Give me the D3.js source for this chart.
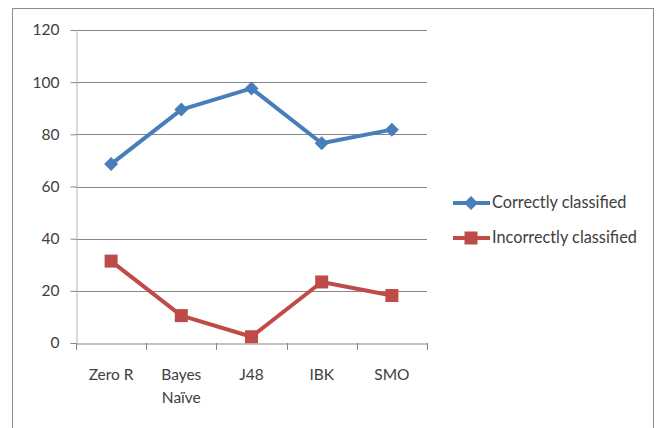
<!DOCTYPE html>
<html>
<head>
<meta charset="utf-8">
<script src="https://cdn.jsdelivr.net/npm/d3@7"></script>
<style>
  html, body { margin: 0; padding: 0; background: #fff; }
  svg { display: block; font-family: Lato, "Open Sans", sans-serif; }
</style>
</head>
<body>
<svg id="chart" width="661" height="428"></svg>
<script>
// Classifier results (percent)
const categories = ["Zero R", "Bayes Naïve", "J48", "IBK", "SMO"];
const correctly = [68.6, 89.5, 97.6, 76.6, 81.8];
const incorrectly = [31.4, 10.5, 2.4, 23.4, 18.2];
const yTicks = [0, 20, 40, 60, 80, 100, 120];
const seriesNames = ["Correctly classified", "Incorrectly classified"];
const seriesColors = ["#4a7ebb", "#be4b48"];

const svg = d3.select("#chart");

// outer frame
svg.append("rect")
  .attr("x", 12.5).attr("y", 8.5)
  .attr("width", 641).attr("height", 430)
  .attr("fill", "none").attr("stroke", "#8c8c8c").attr("stroke-width", 1);

const plot = { left: 76, right: 427, top: 30, bottom: 343 };

const x = d3.scaleBand().domain(categories).range([plot.left, plot.right]);
const y = d3.scaleLinear().domain([0, 120]).range([plot.bottom, plot.top]);

// horizontal gridlines
svg.append("g").selectAll("line").data(yTicks.filter(d => d > 0)).join("line")
  .attr("x1", plot.left).attr("x2", plot.right)
  .attr("y1", d => Math.round(y(d)) + 0.5).attr("y2", d => Math.round(y(d)) + 0.5)
  .attr("stroke", "#868686").attr("stroke-width", 1);

// y axis
const yAxis = svg.append("g")
  .attr("transform", `translate(${plot.left + 0.5},0)`)
  .call(d3.axisLeft(y).tickValues(yTicks).tickSize(6).tickPadding(11));
yAxis.select(".domain").attr("stroke", "#b4b4b4");
yAxis.selectAll(".tick line").attr("stroke", "#868686");
yAxis.selectAll(".tick text").attr("font-size", 15.5).attr("fill", "#404040")
  .attr("font-family", "Lato, 'Open Sans', sans-serif");

// x axis
const xAxis = svg.append("g")
  .attr("transform", `translate(0,${Math.round(plot.bottom) + 0.5})`)
  .call(d3.axisBottom(x).tickSize(0).tickPadding(0));
xAxis.select(".domain").attr("stroke", "#868686");
xAxis.selectAll(".tick text").remove();
// category boundary ticks
svg.append("g").selectAll("line")
  .data(categories.map(c => x(c)).concat([plot.right]))
  .join("line")
  .attr("x1", d => Math.round(d) + 0.5).attr("x2", d => Math.round(d) + 0.5)
  .attr("y1", plot.bottom).attr("y2", plot.bottom + 7)
  .attr("stroke", "#868686");

// category labels (wrapped)
const labelG = svg.append("g").attr("font-size", 15.5).attr("fill", "#404040");
categories.forEach(c => {
  const lines = (c === "Zero R") ? [c] : c.split(" ");
  lines.forEach((w, i) => {
    labelG.append("text")
      .attr("x", x(c) + x.bandwidth() / 2)
      .attr("y", 380 + i * 23)
      .attr("text-anchor", "middle")
      .text(w);
  });
});

const line = d3.line()
  .x((d, i) => x(categories[i]) + x.bandwidth() / 2)
  .y(d => y(d));

// square diamond marker and square marker
const diamondPath = "M0,-7L7,0L0,7L-7,0Z";
const squarePath = "M-6.5,-6.5H6.5V6.5H-6.5Z";

[correctly, incorrectly].forEach((vals, s) => {
  svg.append("path").datum(vals)
    .attr("d", line)
    .attr("fill", "none")
    .attr("stroke", seriesColors[s])
    .attr("stroke-width", 4)
    .attr("stroke-linejoin", "round");
  svg.append("g").selectAll("path").data(vals).join("path")
    .attr("transform", (d, i) => `translate(${x(categories[i]) + x.bandwidth() / 2},${y(d)})`)
    .attr("d", s === 0 ? diamondPath : squarePath)
    .attr("fill", seriesColors[s]);
});

// legend
const legend = svg.append("g");
seriesNames.forEach((name, s) => {
  const ly = 203 + s * 35;
  legend.append("line")
    .attr("x1", 453).attr("x2", 490).attr("y1", ly).attr("y2", ly)
    .attr("stroke", seriesColors[s]).attr("stroke-width", 4);
  legend.append("path")
    .attr("transform", `translate(471,${ly})`)
    .attr("d", s === 0 ? diamondPath : squarePath)
    .attr("fill", seriesColors[s]);
  legend.append("text")
    .attr("x", 492).attr("y", ly + 5)
    .attr("font-size", 16.3).attr("fill", "#404040")
    .text(name);
});
</script>
</body>
</html>
